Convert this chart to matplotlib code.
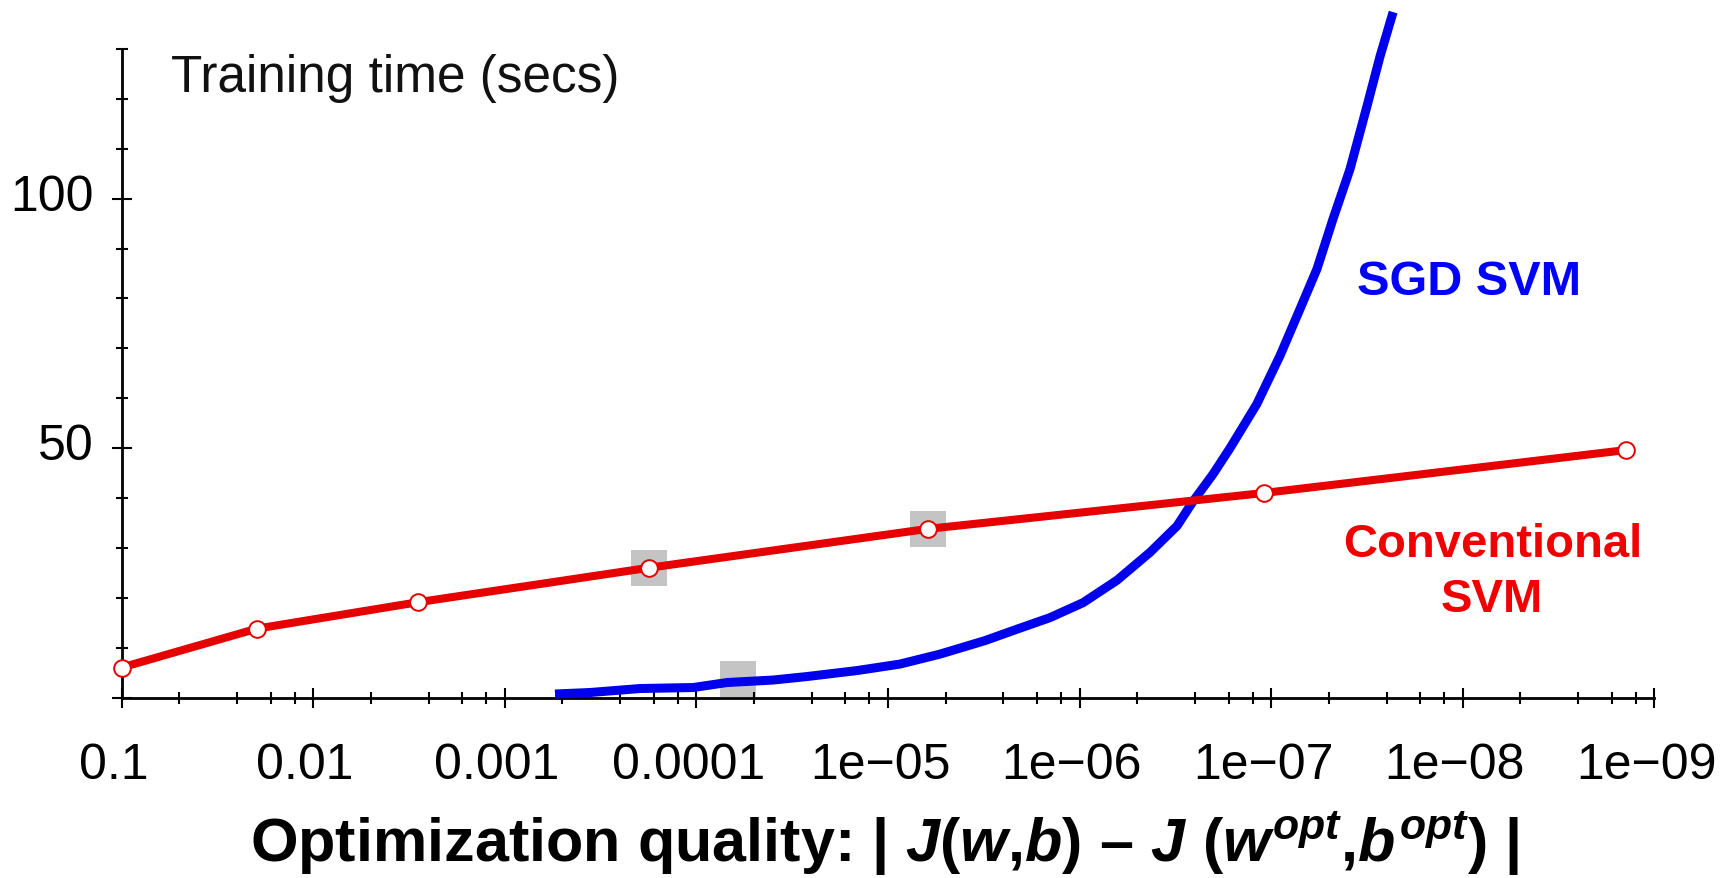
import matplotlib
matplotlib.use('Agg')
import matplotlib.pyplot as plt
import matplotlib.transforms as mtransforms
from matplotlib.ticker import FixedLocator, FixedFormatter, NullFormatter

# ---- data ----
conv_x = [0.1, 0.0197, 0.00284, 1.77e-4, 6.2e-6, 1.09e-7, 1.41e-9]
conv_y = [6.0, 13.8, 19.1, 26.0, 33.8, 41.0, 49.6]

sgd_x = [5.47e-4, 3.59e-4, 1.97e-4, 1.04e-4, 6.92e-5, 3.98e-5, 2.65e-5, 1.45e-5,
         8.66e-6, 5.35e-6, 3.12e-6, 2.12e-6, 1.43e-6, 9.60e-7, 6.38e-7, 4.29e-7,
         3.10e-7, 2.56e-7, 2.01e-7, 1.64e-7, 1.19e-7, 9.00e-8, 7.07e-8, 5.77e-8,
         4.76e-8, 3.88e-8, 3.16e-8, 2.70e-8, 2.31e-8]
sgd_y = [0.7, 1.0, 1.8, 2.0, 3.0, 3.5, 4.2, 5.4,
         6.7, 8.7, 11.4, 13.7, 16.0, 19.0, 23.5, 29.1,
         34.4, 39.3, 44.8, 50.0, 58.8, 68.5, 77.9, 85.9,
         95.9, 105.9, 118.6, 128.6, 137.4]

highlight_x = [1.77e-4, 6.2e-6, 6.03e-5]
highlight_y = [26.0, 33.8, 3.7]

x_major = [1e-1, 1e-2, 1e-3, 1e-4, 1e-5, 1e-6, 1e-7, 1e-8, 1e-9]
x_labels = ['0.1', '0.01', '0.001', '0.0001', '1e\u221205', '1e\u221206',
            '1e\u221207', '1e\u221208', '1e\u221209']
y_major = [0, 50, 100]
y_labels = ['', '50', '100']
y_minor = [10, 20, 30, 40, 60, 70, 80, 90, 110, 120, 130]

plt.rcParams['font.family'] = ['Liberation Sans', 'DejaVu Sans']
plt.rcParams['mathtext.fontset'] = 'custom'
plt.rcParams['mathtext.rm'] = 'Liberation Sans:bold'
plt.rcParams['mathtext.it'] = 'Liberation Sans:italic:bold'
plt.rcParams['mathtext.bf'] = 'Liberation Sans:bold'

W, H = 1733, 879
fig = plt.figure(figsize=(W / 100, H / 100), dpi=100)
x0, x1 = 121.6, 1654.4
ytop, ybot = 50.0, 698.5
ax = fig.add_axes([x0 / W, 1 - ybot / H, (x1 - x0) / W, (ybot - ytop) / H])

ax.set_xscale('log')
ax.set_xlim(0.1, 1e-9)
ax.set_ylim(0, 130)

# highlight squares
ax.plot(highlight_x, highlight_y, linestyle='none', marker='s', markersize=26.5,
        color='#c4c4c4', markeredgewidth=0, zorder=1, clip_on=False)
# SGD SVM
ax.plot(sgd_x, sgd_y, color='#0000ee', lw=6.5, solid_capstyle='butt',
        solid_joinstyle='round', zorder=3, clip_on=False)
# Conventional SVM
ax.plot(conv_x, conv_y, color='#e60000', lw=5.8, marker='o', markersize=12,
        markerfacecolor='white', markeredgecolor='#e60000', markeredgewidth=1.4,
        zorder=4, clip_on=False)

for s in ['top', 'right']:
    ax.spines[s].set_visible(False)
for s in ['left', 'bottom']:
    ax.spines[s].set_linewidth(2.0)
    ax.spines[s].set_zorder(2)

minor_x = []
for k in range(1, 9):
    for d in (2, 4, 6, 8):
        minor_x.append(10.0 ** (-k) / d)
ax.xaxis.set_major_locator(FixedLocator(x_major))
ax.xaxis.set_major_formatter(FixedFormatter(x_labels))
ax.xaxis.set_minor_locator(FixedLocator(minor_x))
ax.xaxis.set_minor_formatter(NullFormatter())
ax.yaxis.set_major_locator(FixedLocator(y_major))
ax.yaxis.set_major_formatter(FixedFormatter(y_labels))
ax.yaxis.set_minor_locator(FixedLocator(y_minor))
ax.yaxis.set_minor_formatter(NullFormatter())

ax.tick_params(axis='both', which='major', direction='inout', length=14.4,
               width=1.5, labelsize=36, colors='black')
ax.tick_params(axis='both', which='minor', direction='inout', length=8.6,
               width=1.5)
ax.tick_params(axis='x', which='major', pad=24.5)
ax.tick_params(axis='y', which='major', pad=12.7)

off_y = mtransforms.ScaledTranslation(0, 7 / 100, fig.dpi_scale_trans)
for lab in ax.yaxis.get_majorticklabels():
    lab.set_transform(lab.get_transform() + off_y)
off_x = mtransforms.ScaledTranslation(-8 / 100, 0, fig.dpi_scale_trans)
for lab in ax.xaxis.get_majorticklabels():
    lab.set_transform(lab.get_transform() + off_x)

# texts
fig.text(171 / W, 1 - 92 / H, 'Training time (secs)', fontsize=37,
         ha='left', va='baseline', color='#111111')
fig.text(1469 / W, 1 - 295 / H, 'SGD SVM', fontsize=35, fontweight='bold',
         ha='center', va='baseline', color='#0000ff')
fig.text(1493 / W, 1 - 557 / H, 'Conventional', fontsize=34, fontweight='bold',
         ha='center', va='baseline', color='#f00000')
fig.text(1492 / W, 1 - 612 / H, 'SVM', fontsize=34, fontweight='bold',
         ha='center', va='baseline', color='#f00000')
fig.text(885 / W, 1 - 862 / H,
         r'Optimization quality: | $J(w{,}b)$ – $J\ (w^{opt}{,}b^{opt})$ |',
         fontsize=44, fontweight='bold', ha='center', va='baseline',
         color='black')

fig.savefig('out.png', dpi=100)
